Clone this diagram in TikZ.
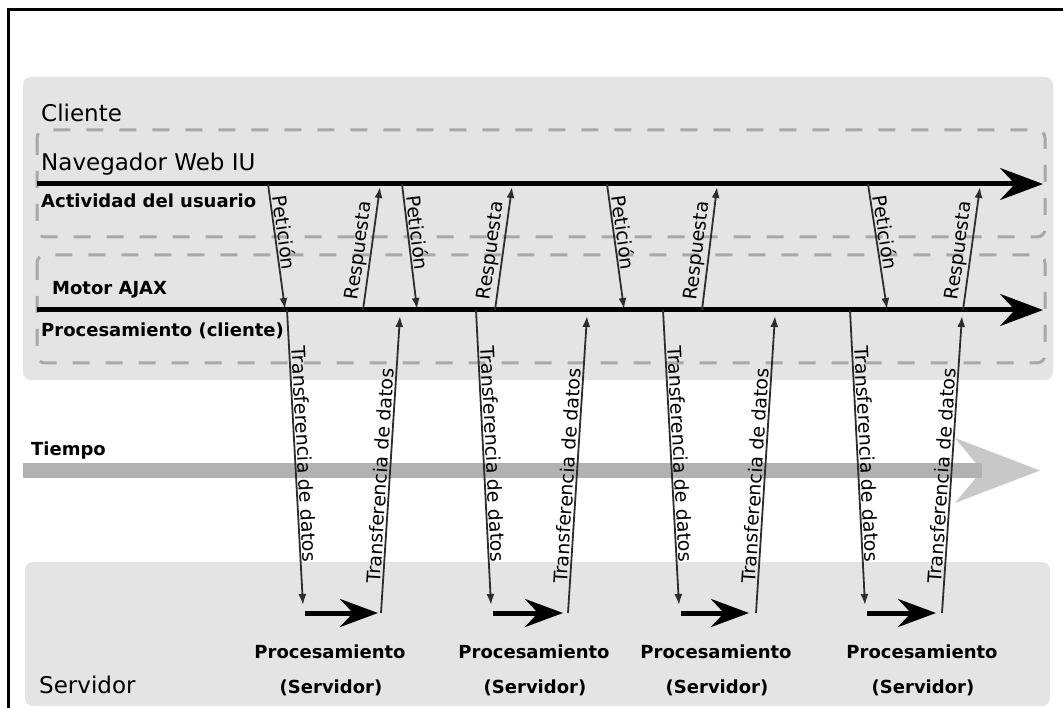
\documentclass[tikz,border=0pt]{standalone}
\usepackage{fontspec}
\setmainfont{DejaVu Sans}
\usetikzlibrary{arrows.meta}

\definecolor{panelgray}{RGB}{228,228,228}
\definecolor{dashgray}{RGB}{168,168,168}
\definecolor{bandgray}{RGB}{178,178,178}
\definecolor{headgray}{RGB}{200,200,200}
\definecolor{arrowdark}{RGB}{45,45,45}

\tikzset{
  panel/.style={fill=panelgray, draw=none, rounded corners=8pt},
  layerbox/.style={draw=dashgray, line width=3pt, dash pattern=on 17pt off 16pt, rounded corners=8pt},
  timeline/.style={line width=5pt, -{Stealth[length=43pt,width=32pt,inset=15pt]}},
  procarrow/.style={line width=5pt, -{Stealth[length=38pt,width=28pt,inset=13pt]}},
  msg/.style={draw=arrowdark, line width=1.8pt, -{Latex[length=11pt,width=8pt]}},
  bigtext/.style={font=\fontsize{23}{26}\selectfont, anchor=base west, inner sep=0pt},
  layertext/.style={font=\bfseries\fontsize{18}{20}\selectfont, anchor=base west, inner sep=0pt},
  proctext/.style={font=\bfseries\fontsize{18}{20}\selectfont, anchor=base, inner sep=0pt},
  msgtext/.style={font=\fontsize{19}{21}\selectfont, sloped, above, inner sep=1.5pt, text=black},
}

\begin{document}
\begin{tikzpicture}[x=1pt,y=-1pt]
\useasboundingbox (0,0) rectangle (1063,708);
\fill[white] (0,0) rectangle (1063,708);

% outer frame (left and top edges)
\draw[line width=3pt] (8,708) -- (8,10) -- (1063,10);

% client and server panels
\path[panel] (23,77) rectangle (1053,380);
\path[panel] (25,562) rectangle (1050,706);

% time axis
\fill[headgray] (1040,470.5) -- (955,438) -- (982,470.5) -- (955,503) -- cycle;
\fill[bandgray] (23,463) rectangle (982,478);

% dashed layers
\draw[layerbox] (37,130) rectangle (1045,237);
\draw[layerbox] (37,255) rectangle (1045,363);

% texts of the panels
\node[bigtext] (cliente) at (41,122) {Cliente};
\node[bigtext] (navegador) at (41,171) {Navegador Web IU};
\node[layertext] (actividad) at (41,208) {Actividad del usuario};
\node[layertext] (motor) at (52,295) {Motor AJAX};
\node[layertext] (proccliente) at (41,337) {Procesamiento (cliente)};
\node[layertext] (tiempo) at (31,455) {Tiempo};
\node[bigtext] (servidor) at (39,693) {Servidor};

% the two client timelines
\coordinate (ui start) at (37,184);
\coordinate (ui end) at (1043,184);
\coordinate (ajax start) at (37,310);
\coordinate (ajax end) at (1043,310);
\draw[timeline] (ui start) -- (ui end);
\draw[timeline] (ajax start) -- (ajax end);

% request / response / transfer cycles
\foreach \i/\pa/\pb/\ra/\rb/\da/\db/\hb/\ua/\ub/\lx in {
  1/268/285/363/380/287/303/378/381/400/330,
  2/402/417/495/512/476/491/563/568/587/534,
  3/607/624/702/717/663/679/749/756/775/716,
  4/868/887/963/980/850/865/936/942/962/922}{
  \coordinate (pet\i a) at (\pa,184);
  \coordinate (pet\i b) at (\pb,309);
  \coordinate (res\i a) at (\ra,310);
  \coordinate (res\i b) at (\rb,187);
  \coordinate (down\i a) at (\da,310);
  \coordinate (down\i b) at (\db,605);
  \coordinate (proc\i a) at (\db+2,613);
  \coordinate (proc\i b) at (\hb,613);
  \coordinate (up\i a) at (\ua,613);
  \coordinate (up\i b) at (\ub,316);
  \draw[msg] (pet\i a) -- (pet\i b) node[msgtext, pos=.40] (petlbl\i) {Petición};
  \draw[msg] (res\i a) -- (res\i b) node[msgtext, pos=.47] (reslbl\i) {Respuesta};
  \draw[msg] (down\i a) -- (down\i b) node[msgtext, pos=.49] (downlbl\i) {Transferencia de datos};
  \draw[procarrow] (proc\i a) -- (proc\i b);
  \draw[msg] (up\i a) -- (up\i b) node[msgtext, pos=.46] (uplbl\i) {Transferencia de datos};
  \node[proctext] (proclbl\i) at (\lx,658) {Procesamiento};
  \node[proctext] (servlbl\i) at (\lx+1,693) {(Servidor)};
}
\end{tikzpicture}
\end{document}
